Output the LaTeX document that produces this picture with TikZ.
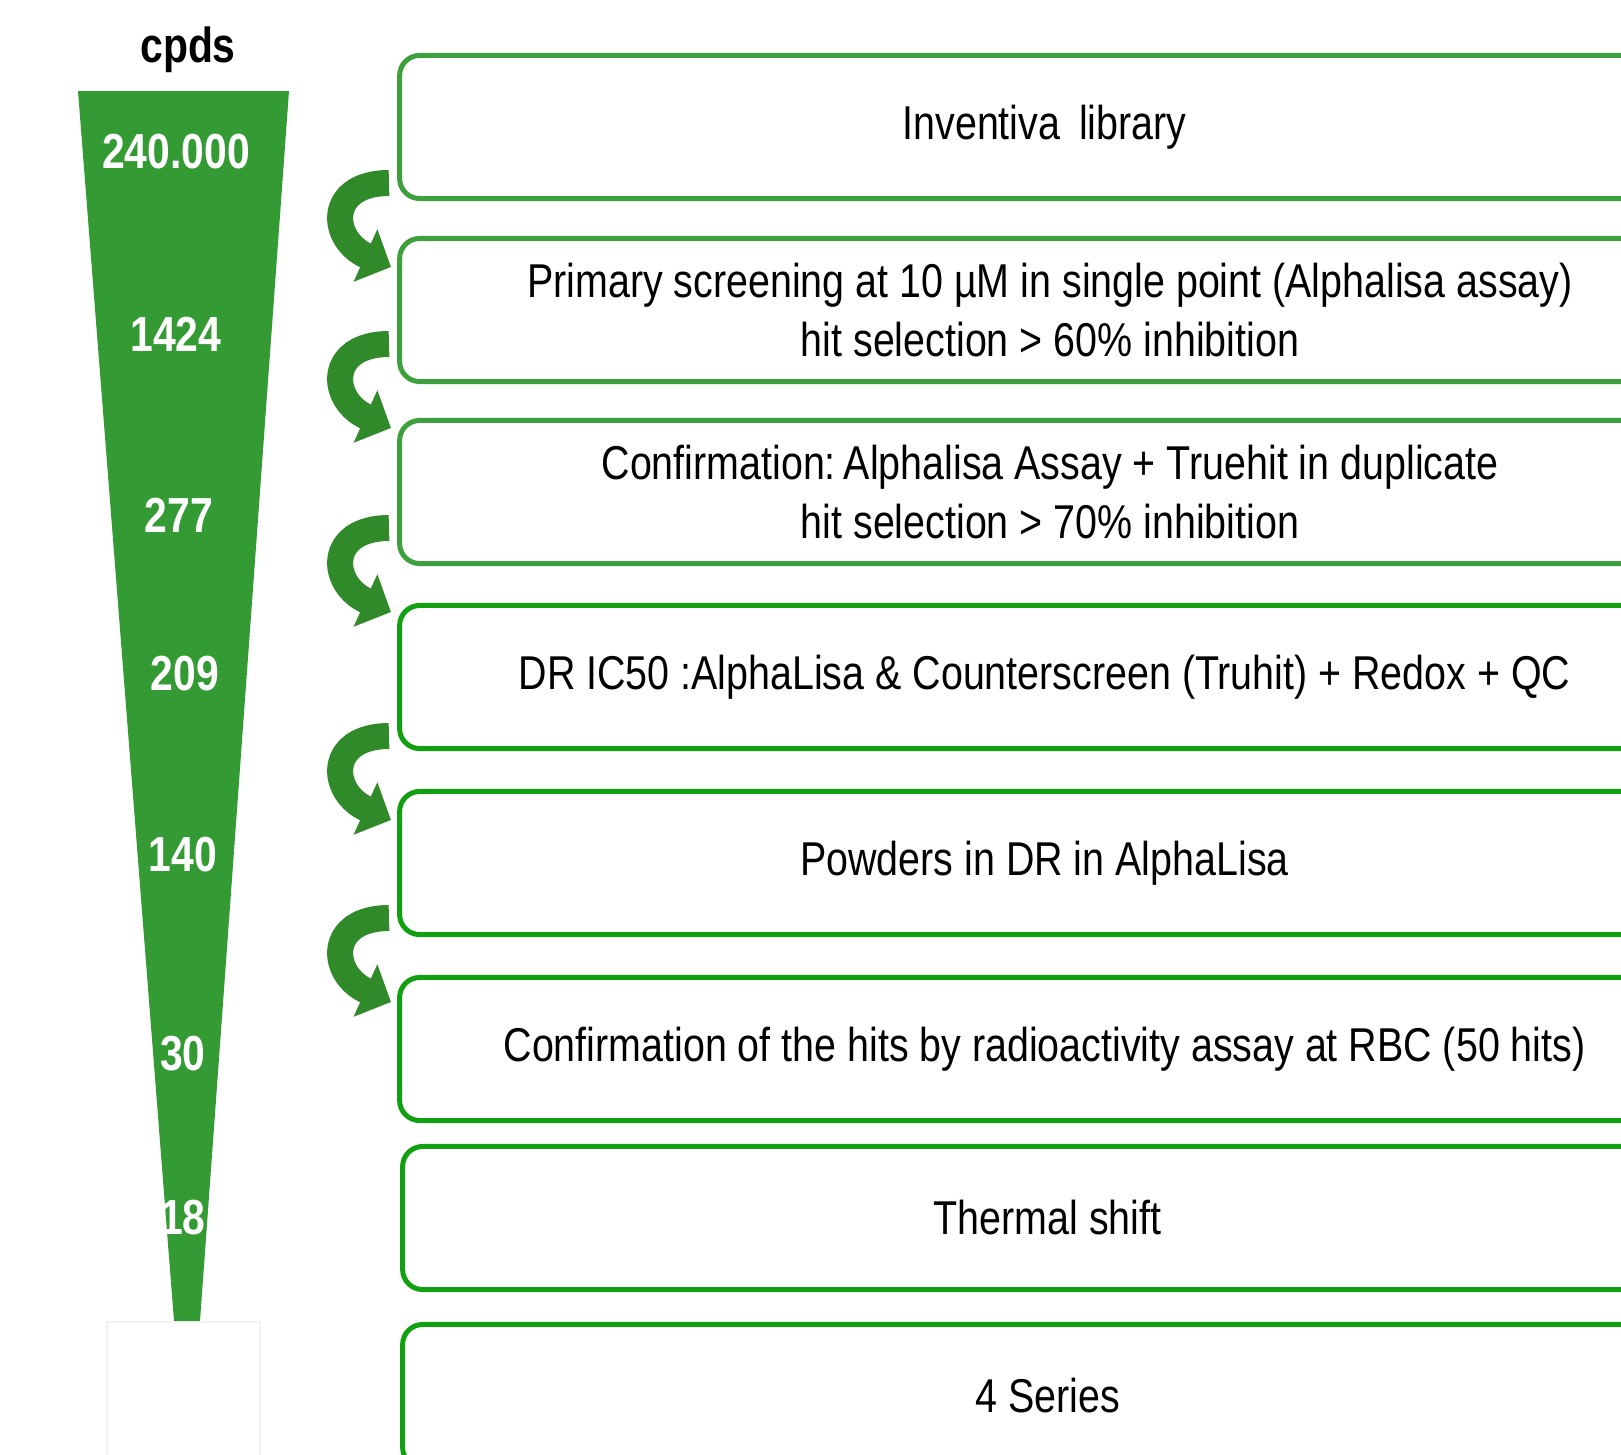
\documentclass[tikz,border=0pt]{standalone}
\usepackage{fontspec}
\setmainfont[FakeStretch=0.83]{Liberation Sans}
\usetikzlibrary{arrows.meta}
\usepackage{xcolor}
\definecolor{funnelgreen}{RGB}{52,155,52}
\definecolor{framegreen}{RGB}{60,160,60}
\definecolor{framebright}{RGB}{16,160,16}
\definecolor{arrowgreen}{RGB}{48,138,42}

\begin{document}
\begin{tikzpicture}[x=0.01cm, y=-0.01cm]
  \tikzset{
    stage/.style={
      draw=framebright,
      line width=0.05cm,
      rounded corners=0.2cm,
      minimum width=13cm,
      minimum height=1.43cm,
      align=center,
      font=\fontsize{13.5}{17}\selectfont
    },
    stagepale/.style={
      stage,
      draw=framegreen
    },
    cpdnum/.style={
      text=white,
      font=\fontsize{14}{16}\selectfont\bfseries
    },
    curlarrow/.style={
      draw=arrowgreen,
      line width=0.26cm,
      -{Triangle[width=0.56cm,length=0.28cm]}
    }
  }
  \useasboundingbox (0,0) rectangle (1621,1454);
  \clip (0,0) rectangle (1621,1454);

  % Draw the funnel
  \fill[funnelgreen] (78,91) -- (289,91) -- (200,1321) -- (174,1321) -- cycle;
  \draw[black!5, line width=0.02cm] (107,1470) -- (107,1322) -- (260,1322) -- (260,1470);
  \node[font=\fontsize{14}{16}\selectfont\bfseries] at (188,50) (cpds) {cpds};

  % Compound counts
    \node[cpdnum] at (176,152) (n0) {240.000};
    \node[cpdnum] at (176,334) (n1) {1424};
    \node[cpdnum] at (179,515) (n2) {277};
    \node[cpdnum] at (185,674) (n3) {209};
    \node[cpdnum] at (183,855) (n4) {140};
    \node[cpdnum] at (183,1054) (n5) {30};
    \node[cpdnum] at (183,1218) (n6) {18};

  % Draw the screening steps
    \node[stagepale] at (1050,127) (lib) {
        Inventiva~\,library
    };
    \node[stagepale] at (1050,310) (primary) {
        Primary screening at 10 µM in single point (Alphalisa assay)\\
        hit selection > 60\% inhibition
    };
    \node[stagepale] at (1050,492) (confirm) {
        Confirmation:\,Alphalisa Assay + Truehit in duplicate\\
        hit selection > 70\% inhibition
    };
    \node[stage] at (1050,677) (dr) {
        DR IC50 :AlphaLisa \& Counterscreen (Truhit) + Redox + QC
    };
    \node[stage] at (1050,863) (powders) {
        Powders in DR in AlphaLisa
    };
    \node[stage] at (1050,1049) (radio) {
        Confirmation of the hits by radioactivity assay at RBC (50 hits)
    };
    \node[stage] at (1053,1218) (thermal) {
        Thermal shift
    };
    \node[stage] at (1053,1396) (series) {
        4 Series
    };

  % Curved arrows between the steps
    \coordinate (t1) at (389,183);
    \coordinate (h1) at (391,267);
    \draw[curlarrow] (t1) .. controls +(-62,0) and +(-62,-28) .. (h1);

    \coordinate (t2) at (389,344);
    \coordinate (h2) at (391,428);
    \draw[curlarrow] (t2) .. controls +(-62,0) and +(-62,-28) .. (h2);

    \coordinate (t3) at (389,528);
    \coordinate (h3) at (391,612);
    \draw[curlarrow] (t3) .. controls +(-62,0) and +(-62,-28) .. (h3);

    \coordinate (t4) at (389,736);
    \coordinate (h4) at (391,820);
    \draw[curlarrow] (t4) .. controls +(-62,0) and +(-62,-28) .. (h4);

    \coordinate (t5) at (389,918);
    \coordinate (h5) at (391,1002);
    \draw[curlarrow] (t5) .. controls +(-62,0) and +(-62,-28) .. (h5);

\end{tikzpicture}
\end{document}
